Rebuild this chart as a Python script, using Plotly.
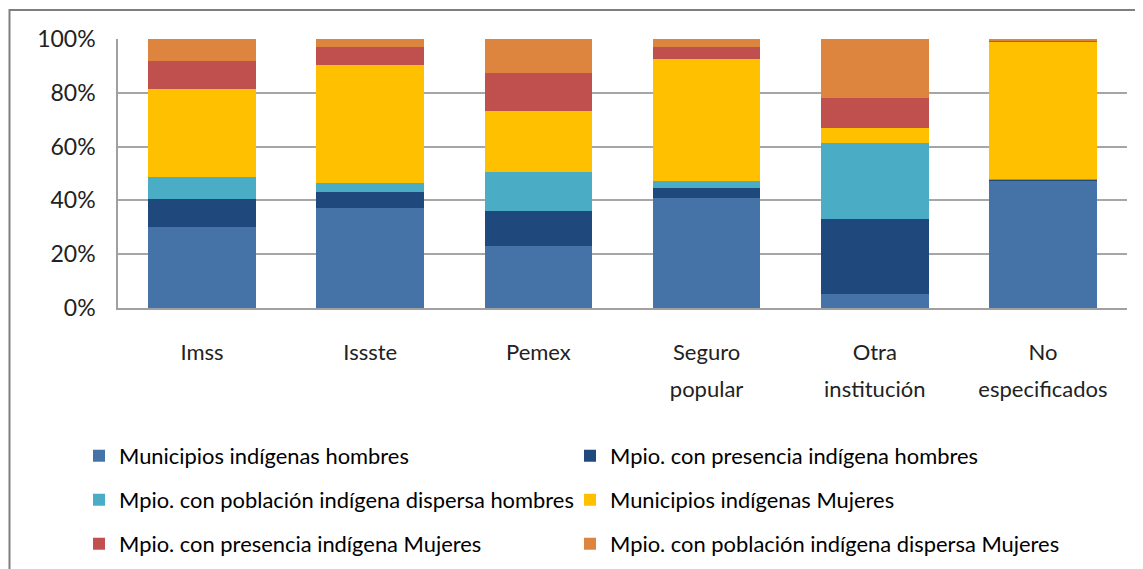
import plotly.graph_objects as go

categories = ["Imss", "Issste", "Pemex", "Seguro popular", "Otra institución", "No especificados"]
label_line1 = ["Imss", "Issste", "Pemex", "Seguro", "Otra", "No"]
label_line2 = ["", "", "", "popular", "institución", "especificados"]

mun_ind_h = [30.2, 37.3, 23.2, 41.0, 5.2, 47.5]
pres_ind_h = [10.2, 5.8, 13.0, 3.5, 27.8, 0.1]
disp_ind_h = [8.3, 3.2, 14.2, 2.7, 28.2, 0.3]
mun_ind_m = [32.6, 43.9, 22.9, 45.2, 5.6, 51.1]
pres_ind_m = [10.6, 6.9, 14.2, 4.7, 11.2, 0.3]
disp_ind_m = [8.1, 2.9, 12.5, 2.9, 22.0, 0.7]

series_names = [
    "Municipios indígenas hombres",
    "Mpio. con presencia indígena hombres",
    "Mpio. con población indígena dispersa hombres",
    "Municipios indígenas Mujeres",
    "Mpio. con presencia indígena Mujeres",
    "Mpio. con población indígena dispersa Mujeres",
]
series_values = [mun_ind_h, pres_ind_h, disp_ind_h, mun_ind_m, pres_ind_m, disp_ind_m]
colors = ["#4572A7", "#1F497D", "#4BACC6", "#FFC000", "#C0504D", "#DD843F"]
legend_ids = ["legend", "legend2", "legend3", "legend4", "legend5", "legend6"]

FONT = "Lato, 'Open Sans', sans-serif"

fig = go.Figure()
for name, vals, col, lg in zip(series_names, series_values, colors, legend_ids):
    fig.add_trace(go.Bar(
        x=categories, y=vals, name=name, marker_color=col,
        marker_line_width=0, legend=lg,
    ))

# page has an 8px body margin; figure is drawn offset by it
OFF = 8
W, H = 1143 - OFF, 569 - OFF
L, R, T, B = 118 - OFF, 16, 39 - OFF, 261
pw, ph = W - L - R, H - T - B

def px_x(p):
    return (p - OFF - L) / pw

def px_y(p):
    return (H - B - (p - OFF)) / ph

legend_common = dict(
    orientation="h", xanchor="left", yanchor="middle",
    font=dict(family=FONT, size=21.9, color="#000000"),
    bgcolor="rgba(0,0,0,0)",
)

col_x = [79, 570]
row_y = [456, 500, 544]
legend_layout = {}
for i, lg in enumerate(legend_ids):
    legend_layout[lg] = dict(x=px_x(col_x[i % 2]), y=px_y(row_y[i // 2]), **legend_common)

tick_font = dict(family=FONT, size=22, color="#222222")

fig.update_layout(
    width=W, height=H,
    margin=dict(l=L, r=R, t=T, b=B, autoexpand=False),
    barmode="stack", barnorm="percent",
    bargap=0.36,
    plot_bgcolor="white", paper_bgcolor="white",
    font=dict(family=FONT, color="#000000"),
    showlegend=True,
    **legend_layout,
    xaxis=dict(
        showline=True, linecolor="#A0A0A0", linewidth=1.5,
        tickfont=tick_font, ticks="", showgrid=False,
        tickmode="array", tickvals=categories, ticktext=label_line1,
        ticklabelstandoff=24,
    ),
    xaxis2=dict(
        overlaying="x", anchor="y", side="bottom", matches="x",
        showline=False, showgrid=False, ticks="", zeroline=False,
        tickfont=tick_font,
        tickmode="array", tickvals=categories, ticktext=label_line2,
        ticklabelstandoff=66,
    ),
    yaxis=dict(
        range=[0, 100], tickvals=[0, 20, 40, 60, 80, 100],
        ticktext=["0%", "20%", "40%", "60%", "80%", "100%"],
        showgrid=True, gridcolor="#A6A6A6", gridwidth=1.5,
        showline=True, linecolor="#A0A0A0", linewidth=1.5,
        tickfont=dict(family=FONT, size=23, color="#222222"),
        ticks="", ticklabelstandoff=16,
    ),
    shapes=[dict(
        type="rect", xref="paper", yref="paper",
        x0=px_x(9.5), x1=px_x(1160), y0=px_y(590), y1=px_y(10),
        line=dict(color="#7F7F7F", width=2), fillcolor="rgba(0,0,0,0)",
        layer="below",
    )],
)

# invisible helper trace so the second category axis carries the same categories
fig.add_trace(go.Bar(
    x=categories, y=[0] * len(categories), xaxis="x2", showlegend=False,
    hoverinfo="skip", marker_color="rgba(0,0,0,0)",
))

fig.write_html("out.html")
